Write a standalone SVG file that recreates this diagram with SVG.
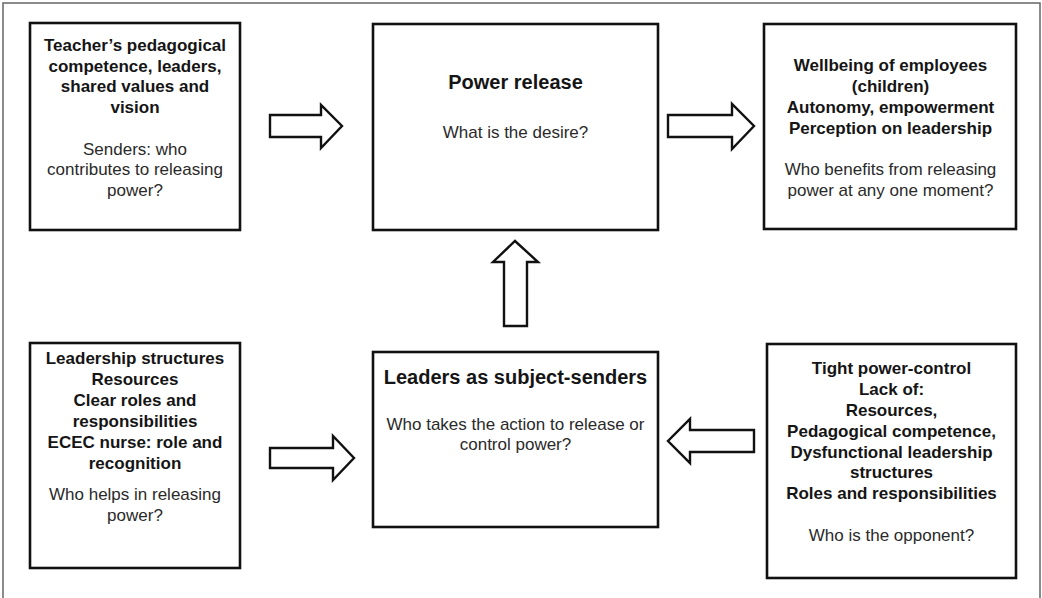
<svg xmlns="http://www.w3.org/2000/svg" width="1042" height="598" viewBox="0 0 1042 598">
<style>
.box{fill:#fff;stroke:#111;stroke-width:2.6}
.arr{fill:#fff;stroke:#111;stroke-width:2.4;stroke-linejoin:miter}
text{font-family:"Liberation Sans",Arial,sans-serif;text-anchor:middle}
.b{font-size:17px;font-weight:bold;fill:#151515}
.t{font-size:20px;font-weight:bold;fill:#151515}
.r{font-size:17px;fill:#2a2a2a}
</style>
<rect x="0" y="0" width="1042" height="598" fill="#fff"/>
<path d="M3,600 V3 H1040 V600" fill="none" stroke="#666" stroke-width="1.5"/>
<g id="connectors">
<polygon class="arr" points="270,115 321,115 321,105 342,126 321,148 321,137 270,137"/>
<polygon class="arr" points="668,115 732,115 732,104 754,126 732,149 732,137 668,137"/>
<polygon class="arr" points="504,326 504,262 493,262 515,241 538,262 527,262 527,326"/>
<polygon class="arr" points="270,448 333,448 333,436 354,458 333,480 333,468 270,468"/>
<polygon class="arr" points="754,430 690,430 690,419 668,441 690,463 690,452 754,452"/>
</g>
<g id="senders">
<rect class="box" x="30" y="23" width="210" height="207"/>
<text class="b" x="135" y="51">Teacher’s pedagogical</text>
<text class="b" x="135" y="71.7">competence, leaders,</text>
<text class="b" x="135" y="92.4">shared values and</text>
<text class="b" x="135" y="113.1">vision</text>
<text class="r" x="135" y="154.5">Senders: who</text>
<text class="r" x="135" y="175.2">contributes to releasing</text>
<text class="r" x="135" y="195.9">power?</text>
</g>
<g id="power-release">
<rect class="box" x="373" y="24" width="285" height="206"/>
<text class="t" x="515.5" y="89">Power release</text>
<text class="r" x="515.5" y="138">What is the desire?</text>
</g>
<g id="beneficiaries">
<rect class="box" x="764" y="24" width="252" height="205"/>
<text class="b" x="890.5" y="71">Wellbeing of employees</text>
<text class="b" x="890.5" y="92">(children)</text>
<text class="b" x="890.5" y="113">Autonomy, empowerment</text>
<text class="b" x="890.5" y="133.5">Perception on leadership</text>
<text class="r" x="890.5" y="175">Who benefits from releasing</text>
<text class="r" x="890.5" y="195.5">power at any one moment?</text>
</g>
<g id="helpers">
<rect class="box" x="30" y="343" width="210" height="225"/>
<text class="b" x="135" y="364">Leadership structures</text>
<text class="b" x="135" y="385">Resources</text>
<text class="b" x="135" y="406">Clear roles and</text>
<text class="b" x="135" y="427">responsibilities</text>
<text class="b" x="135" y="448">ECEC nurse: role and</text>
<text class="b" x="135" y="469">recognition</text>
<text class="r" x="135" y="500">Who helps in releasing</text>
<text class="r" x="135" y="521">power?</text>
</g>
<g id="leaders">
<rect class="box" x="373" y="352" width="285" height="175"/>
<text class="t" x="515.5" y="384">Leaders as subject-senders</text>
<text class="r" x="515.5" y="429.5">Who takes the action to release or</text>
<text class="r" x="515.5" y="449.5">control power?</text>
</g>
<g id="opponent">
<rect class="box" x="767" y="344" width="249" height="234"/>
<text class="b" x="891.5" y="374">Tight power-control</text>
<text class="b" x="891.5" y="395">Lack of:</text>
<text class="b" x="891.5" y="416">Resources,</text>
<text class="b" x="891.5" y="437">Pedagogical competence,</text>
<text class="b" x="891.5" y="458">Dysfunctional leadership</text>
<text class="b" x="891.5" y="478">structures</text>
<text class="b" x="891.5" y="499">Roles and responsibilities</text>
<text class="r" x="891.5" y="541">Who is the opponent?</text>
</g>
</svg>
